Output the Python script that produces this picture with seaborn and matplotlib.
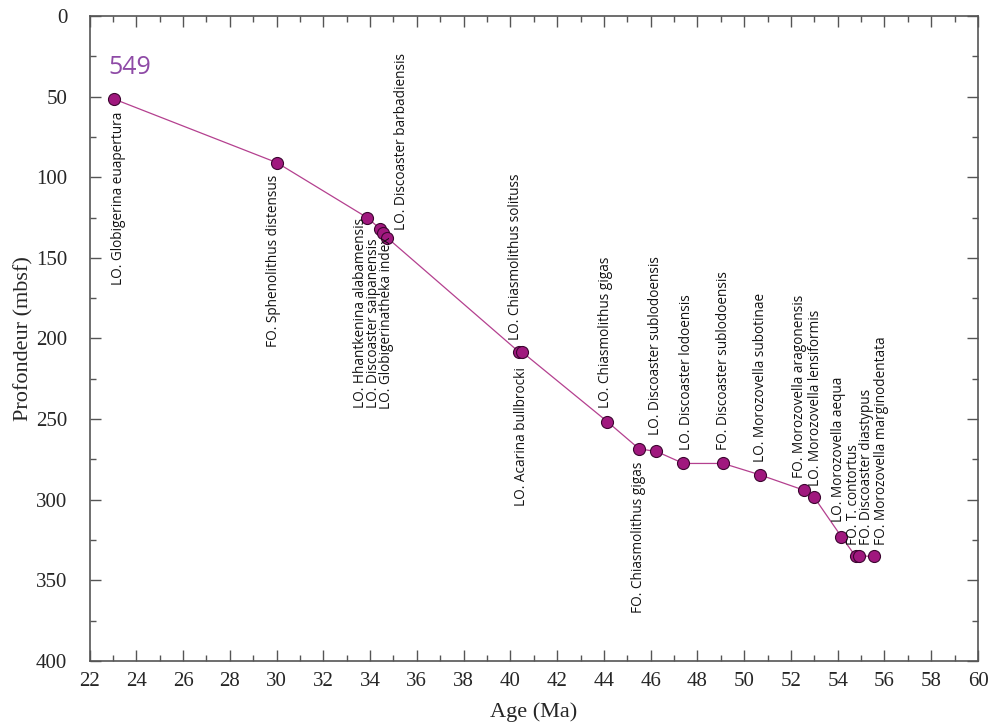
import matplotlib
matplotlib.use('Agg')
import matplotlib.pyplot as plt
import seaborn as sns
import pandas as pd
from matplotlib.ticker import MultipleLocator

# Bio-events: age (Ma) and depth (mbsf)
ages = [23.05, 30.02, 33.87, 34.43, 34.56, 34.73, 40.38, 40.51, 44.14, 45.51,
        46.24, 47.4, 49.1, 50.66, 52.54, 52.97, 54.16, 54.76, 54.93, 55.57]
depths = [51.5, 91, 125, 132, 134.5, 137.5, 208.5, 208.5, 251.5, 268.5,
          270, 277.5, 277.5, 284.5, 294, 298, 323, 335, 335, 335]
events = [
    "LO. Globigerina euapertura",
    "FO. Sphenolithus distensus",
    "LO. Hhantkenina alabamensis",
    "LO. Discoaster saipanensis",
    "LO. Globigerinatheka index",
    "LO. Discoaster barbadiensis",
    "LO. Chiasmolithus solituss",
    "LO. Acarina bullbrocki",
    "LO. Chiasmolithus gigas",
    "FO. Chiasmolithus gigas",
    "LO. Discoaster sublodoensis",
    "LO. Discoaster lodoensis",
    "FO. Discoaster sublodoensis",
    "LO. Morozovella subotinae",
    "FO. Morozovella aragonensis",
    "LO. Morozovella lensiformis",
    "LO. Morozovella aequa",
    "FO. T. contortus",
    "FO. Discoaster diastypus",
    "FO. Morozovella marginodentata",
]
site = "549"

# label placement (age, depth, vertical anchor) -- layout only
label_pos = [
    (23.22, 59.5, "top"), (29.85, 98.5, "top"), (33.58, 243, "bottom"),
    (34.14, 243, "bottom"), (34.7, 244, "bottom"), (35.33, 132.5, "bottom"),
    (40.21, 201, "bottom"), (40.47, 217.5, "top"), (44.06, 243, "bottom"),
    (45.47, 276.5, "top"), (46.2, 260, "bottom"), (47.52, 269, "bottom"),
    (49.1, 269, "bottom"), (50.69, 276.5, "bottom"), (52.36, 286.5, "bottom"),
    (53.04, 291.5, "bottom"), (54.03, 314, "bottom"), (54.67, 328, "bottom"),
    (55.24, 328, "bottom"), (55.87, 328, "bottom"),
]

df = pd.DataFrame({"age": ages, "depth": depths, "event": events})

sns.set_style("ticks")
plt.rcParams['font.family'] = ['Liberation Serif', 'DejaVu Serif']

fig = plt.figure(figsize=(9.88, 7.27), dpi=100)
ax = fig.add_axes([0.0906, 0.0908, 0.8993, 0.8872])

sns.lineplot(data=df, x="age", y="depth", sort=False, color="#b4408f",
             linewidth=0.9, ax=ax)
sns.scatterplot(data=df, x="age", y="depth", color="#a0187e",
                edgecolor="#3c0630", linewidth=0.8, s=75, zorder=3, ax=ax)

for (x, y, va), txt in zip(label_pos, events):
    ax.text(x, y, txt, rotation=90, ha="center", va=va, fontsize=9.8,
            family=["Open Sans", "DejaVu Sans"], color="#111111")

ax.text(23.73, 32, site, ha="center", va="center", fontsize=18,
        family=["Open Sans", "DejaVu Sans"], color="#8e4aa6")

ax.set_xlim(22, 60)
ax.set_ylim(400, 0)
ax.xaxis.set_major_locator(MultipleLocator(2))
ax.xaxis.set_minor_locator(MultipleLocator(1))
ax.yaxis.set_major_locator(MultipleLocator(50))
ax.yaxis.set_minor_locator(MultipleLocator(25))
ax.tick_params(which="both", direction="in", top=True, right=True,
               color="#555555", labelsize=15)
ax.tick_params(which="major", length=8, width=1)
ax.tick_params(which="minor", length=4, width=1)
ax.tick_params(axis="x", which="major", pad=8)
ax.tick_params(axis="y", which="major", pad=16)
for sp in ax.spines.values():
    sp.set_color("#555555")
    sp.set_linewidth(1.2)

ax.set_xlabel("Age (Ma)", fontsize=16, labelpad=8)
ax.set_ylabel("Profondeur (mbsf)", fontsize=16, labelpad=2)

fig.savefig("out.png", dpi=100)
